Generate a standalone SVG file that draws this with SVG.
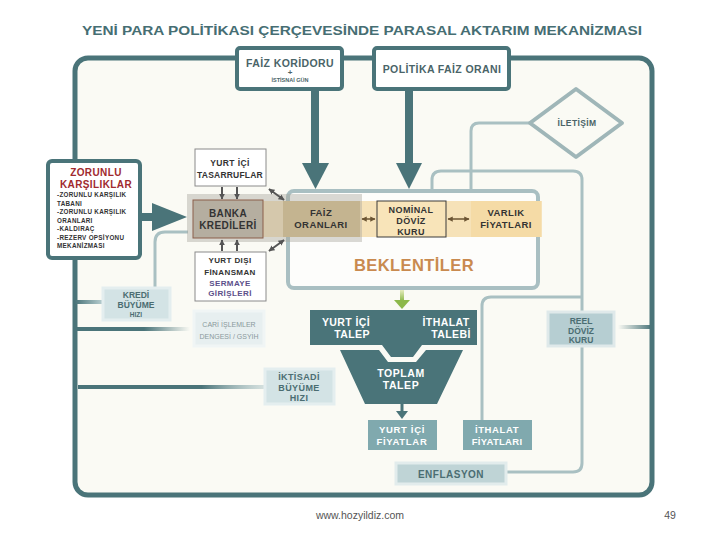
<svg xmlns="http://www.w3.org/2000/svg" width="720" height="540" viewBox="0 0 720 540">
<defs>
<style>
text{font-family:"Liberation Sans",Arial,sans-serif;font-weight:bold;text-anchor:middle}
.frame{fill:#fafaf4;stroke:#4a7479;stroke-width:5}
.tealbox{fill:#fff;stroke:#4a7479;stroke-width:4}
.lt{fill:none;stroke:#a9c0c2;stroke-width:3}
.wbox{fill:#fff;stroke:#8a8a8a;stroke-width:1}
.teal{fill:#4a7479}
.lb{fill:#d3e3e5;stroke:#e4eeef;stroke-width:3}
.fy{fill:#80a9ae}
.wt{fill:#fff}
.tt{fill:#4b6d72}
.ls{letter-spacing:0.4px}
.st{text-anchor:start}
</style>
<marker id="hb" viewBox="0 0 10 10" refX="9" refY="5" markerWidth="3.5" markerHeight="3.5" orient="auto-start-reverse"><path d="M0,0 L10,5 L0,10 z" fill="#6b5433"/></marker>
<marker id="hg" viewBox="0 0 10 10" refX="9" refY="5" markerWidth="3" markerHeight="3" orient="auto-start-reverse"><path d="M0,0 L10,5 L0,10 z" fill="#555"/></marker>
<linearGradient id="fadeA" x1="0" y1="0" x2="1" y2="0"><stop offset="0" stop-color="#4a7479"/><stop offset="1" stop-color="#b9cfd1"/></linearGradient>
<linearGradient id="fade" x1="0" y1="0" x2="1" y2="0"><stop offset="0" stop-color="#4a7479"/><stop offset="0.6" stop-color="#4a7479"/><stop offset="1" stop-color="#4a7479" stop-opacity="0"/></linearGradient>
<linearGradient id="fadeB" x1="0" y1="0" x2="1" y2="0"><stop offset="0" stop-color="#4a7479"/><stop offset="0.65" stop-color="#4a7479"/><stop offset="1" stop-color="#a9c3c6" stop-opacity="0.4"/></linearGradient>
<linearGradient id="fadeR" x1="0" y1="0" x2="1" y2="0"><stop offset="0" stop-color="#4a7479" stop-opacity="0"/><stop offset="1" stop-color="#4a7479"/></linearGradient>
<linearGradient id="grn" x1="0" y1="0" x2="0" y2="1"><stop offset="0" stop-color="#eef0c8"/><stop offset="1" stop-color="#8cb84a"/></linearGradient>
</defs>
<rect width="720" height="540" fill="#fff"/>

<text x="362" y="35" font-size="12.5" fill="#466e73" textLength="560" lengthAdjust="spacingAndGlyphs">YENİ PARA POLİTİKASI ÇERÇEVESİNDE PARASAL AKTARIM MEKANİZMASI</text>

<rect class="frame" x="75" y="58" width="577" height="437" rx="13"/>

<g id="connectors">
  <path class="lt" d="M532,123 H479 Q471,123 471,131 V191"/>
  <path class="lt" d="M432,191 V180 Q432,171 441,171 H573 Q582,171 582,180 V463 Q582,472 573,472 H507"/>
  <path class="lt" d="M482,420 V306 Q482,297 491,297 H582"/>
  <path class="lt" d="M155,287 V242 Q155,232 165,232 H188"/>
  <rect x="75" y="300" width="28" height="4" fill="url(#fadeA)"/>
  <rect x="75" y="327" width="115" height="4" fill="url(#fade)"/>
  <rect x="78" y="385" width="190" height="4" fill="url(#fadeB)"/>
  <rect x="618" y="325" width="34" height="4" fill="url(#fadeR)"/>
  <rect class="teal" x="311" y="88" width="8" height="77"/>
  <polygon class="teal" points="302,163 329,163 315.5,189"/>
  <rect class="teal" x="405" y="88" width="8" height="77"/>
  <polygon class="teal" points="396,163 422,163 409,189"/>
  <rect class="teal" x="138" y="213" width="18" height="8"/>
  <polygon class="teal" points="152,203 152,231 187,217"/>
  <rect x="400" y="289" width="4" height="12" fill="url(#grn)"/>
  <polygon points="394,300 410,300 402,309" fill="#8cb84a"/>
  <line x1="402" y1="404" x2="402" y2="412" stroke="#4a7479" stroke-width="3"/>
  <polygon class="teal" points="396,411 408,411 402,419"/>
</g>

<g id="faiz-koridoru">
  <rect class="tealbox" x="237" y="48" width="105" height="41" rx="3"/>
  <text x="290" y="67" font-size="10.5" fill="#4a6468" class="ls">FAİZ KORİDORU</text>
  <text x="290" y="75" font-size="8" fill="#4a6468">+</text>
  <text x="290" y="82" font-size="5.5" fill="#4a6468">İSTİSNAİ GÜN</text>
</g>
<g id="politika">
  <rect class="tealbox" x="374" y="48" width="135" height="41" rx="3"/>
  <text x="442" y="73" font-size="10.5" fill="#4a6468" class="ls">POLİTİKA FAİZ ORANI</text>
</g>
<g id="iletisim">
  <polygon points="530,123 576,89 622,123 576,157" fill="#fafaf4" stroke="#9fb6b8" stroke-width="4" stroke-linejoin="round"/>
  <text x="577" y="126" font-size="8.5" fill="#4a6468" class="ls">İLETİŞİM</text>
</g>

<g id="zorunlu">
  <rect class="tealbox" x="48" y="161" width="92" height="97" rx="4"/>
  <text x="96" y="176" font-size="10" fill="#a02a2e" class="ls">ZORUNLU</text>
  <text x="96" y="188" font-size="10" fill="#a02a2e" class="ls">KARŞILIKLAR</text>
  <g font-size="6.3" fill="#333" style="letter-spacing:0.3px">
  <text x="57" y="197" class="st">-ZORUNLU KARŞILIK</text>
  <text x="57" y="205.5" class="st">TABANI</text>
  <text x="57" y="214" class="st">-ZORUNLU KARŞILIK</text>
  <text x="57" y="222.5" class="st">ORANLARI</text>
  <text x="57" y="231" class="st">-KALDIRAÇ</text>
  <text x="57" y="239.5" class="st">-REZERV OPSİYONU</text>
  <text x="57" y="248" class="st">MEKANİZMASI</text>
  </g>
</g>

<g id="beklentiler">
  <rect x="288" y="191" width="250" height="97" rx="6" fill="#fdfdfb" stroke="#a9bfc2" stroke-width="4"/>
  <text x="414" y="271" font-size="16.5" fill="#c98a4f" class="ls">BEKLENTİLER</text>
</g>

<rect x="262" y="201" width="280" height="36" fill="#f6e2b8"/>
<g id="faiz-oranlari">
  <rect x="283" y="201" width="77" height="36" fill="#d9c088"/>
</g>
<rect x="187" y="194" width="175" height="48" fill="#a8a59c" opacity="0.42"/>
<g id="banka">
  <rect x="193" y="200" width="70" height="38" fill="#b5aea0" stroke="#8b5e4a" stroke-width="1"/>
  <text x="228" y="217" font-size="10" fill="#333" class="ls">BANKA</text>
  <text x="228" y="229" font-size="10" fill="#333" class="ls">KREDİLERİ</text>
</g>
<g id="faiz-oranlari-text">
  <text x="321" y="216" font-size="9.5" fill="#333" class="ls">FAİZ</text>
  <text x="321" y="227.5" font-size="9.5" fill="#333" class="ls">ORANLARI</text>
</g>
<g id="nominal">
  <rect x="377" y="201" width="69" height="36" fill="#f8e4b9" stroke="#3a3a3a" stroke-width="1"/>
  <text x="411" y="213" font-size="9" fill="#333" class="ls">NOMİNAL</text>
  <text x="411" y="224" font-size="9" fill="#333" class="ls">DÖVİZ</text>
  <text x="411" y="234.5" font-size="9" fill="#333" class="ls">KURU</text>
</g>
<g id="varlik">
  <rect x="471" y="201" width="70" height="36" fill="#f5dba6"/>
  <text x="506" y="216" font-size="9.5" fill="#333" class="ls">VARLIK</text>
  <text x="506" y="227.5" font-size="9.5" fill="#333" class="ls">FİYATLARI</text>
</g>
<g id="row-arrows" stroke-width="1.5">
  <line x1="362" y1="219" x2="375" y2="219" stroke="#6b5433" marker-start="url(#hb)" marker-end="url(#hb)"/>
  <line x1="448" y1="219" x2="469" y2="219" stroke="#6b5433" marker-start="url(#hb)" marker-end="url(#hb)"/>
  <line x1="222" y1="187" x2="222" y2="199" stroke="#555" stroke-width="2" marker-end="url(#hg)"/>
  <line x1="237" y1="187" x2="237" y2="199" stroke="#555" stroke-width="2" marker-end="url(#hg)"/>
  <line x1="222" y1="251" x2="222" y2="240" stroke="#555" stroke-width="2" marker-end="url(#hg)"/>
  <line x1="237" y1="251" x2="237" y2="240" stroke="#555" stroke-width="2" marker-end="url(#hg)"/>
  <line x1="269" y1="189" x2="284" y2="200" stroke="#555" stroke-width="2" marker-start="url(#hg)" marker-end="url(#hg)"/>
  <line x1="269" y1="251" x2="284" y2="240" stroke="#555" stroke-width="2" marker-start="url(#hg)" marker-end="url(#hg)"/>
</g>

<g id="tasarruflar">
  <rect class="wbox" x="195" y="149" width="71" height="37"/>
  <text x="230" y="166" font-size="8.5" fill="#333" class="ls">YURT İÇİ</text>
  <text x="230" y="178" font-size="8.5" fill="#333" style="letter-spacing:0.2px">TASARRUFLAR</text>
</g>
<g id="yurtdisi">
  <rect class="wbox" x="195" y="252" width="71" height="49"/>
  <text x="230" y="263" font-size="8" fill="#333" class="ls">YURT DIŞI</text>
  <text x="230" y="275" font-size="8" fill="#333" class="ls">FİNANSMAN</text>
  <text x="230" y="285.5" font-size="8" fill="#5b4f8a" class="ls">SERMAYE</text>
  <text x="230" y="296" font-size="8" fill="#5b4f8a" class="ls">GİRİŞLERİ</text>
</g>
<g id="kredi">
  <rect class="lb" x="103" y="288" width="67" height="32"/>
  <text x="136" y="298" font-size="8.5" class="tt">KREDİ</text>
  <text x="136" y="307.5" font-size="8.5" class="tt">BÜYÜME</text>
  <text x="136" y="316.5" font-size="6.5" class="tt">HIZI</text>
</g>
<g id="cari">
  <rect x="194" y="311" width="70" height="35" fill="#e7eff0" stroke="#f0f5f5" stroke-width="3"/>
  <text x="229" y="327" font-size="7" fill="#8a999c" style="font-weight:normal">CARİ İŞLEMLER</text>
  <text x="229" y="339" font-size="7" fill="#8a999c" style="font-weight:normal">DENGESİ / GSYİH</text>
</g>
<g id="iktisadi">
  <rect class="lb" x="265" y="369" width="69" height="35" fill="#c9dcdf"/>
  <text x="299" y="380" font-size="9" class="tt ls">İKTİSADİ</text>
  <text x="299" y="391" font-size="9" class="tt ls">BÜYÜME</text>
  <text x="299" y="401" font-size="9" class="tt ls">HIZI</text>
</g>
<g id="talep">
  <polygon class="teal" points="310,310 477,310 477,345 422,345 413,357 391,357 382,345 310,345"/>
  <text x="346" y="326" font-size="10.5" class="wt ls">YURT İÇİ</text>
  <text x="352" y="338" font-size="10.5" class="wt ls">TALEP</text>
  <text x="446" y="326" font-size="10.5" class="wt ls">İTHALAT</text>
  <text x="451" y="338" font-size="10.5" class="wt ls">TALEBİ</text>
</g>
<g id="toplam">
  <polygon class="teal" points="340,350 379,350 388,362 416,362 426,350 463,350 437,404 365,404"/>
  <text x="401" y="377" font-size="10.5" class="wt" style="letter-spacing:0.6px">TOPLAM</text>
  <text x="401" y="389" font-size="10.5" class="wt" style="letter-spacing:0.6px">TALEP</text>
</g>
<g id="reel">
  <rect x="548" y="312" width="66" height="34" fill="#b6ced2" stroke="#dfe9ea" stroke-width="3"/>
  <text x="581" y="324" font-size="8.5" class="tt">REEL</text>
  <text x="581" y="333.5" font-size="8.5" class="tt">DÖVİZ</text>
  <text x="581" y="343" font-size="8.5" class="tt">KURU</text>
</g>
<g id="yurtici-fiyatlar">
  <rect class="fy" x="368" y="420" width="69" height="30"/>
  <text x="402" y="433" font-size="9.5" class="wt" style="letter-spacing:0.7px">YURT İÇİ</text>
  <text x="402" y="445" font-size="9.5" class="wt" style="letter-spacing:0.7px">FİYATLAR</text>
</g>
<g id="ithalat-fiyatlari">
  <rect class="fy" x="463" y="420" width="69" height="30"/>
  <text x="497" y="433" font-size="9.5" class="wt" style="letter-spacing:0.6px">İTHALAT</text>
  <text x="497" y="445" font-size="9.5" class="wt" style="letter-spacing:0.3px">FİYATLARI</text>
</g>
<g id="enflasyon">
  <rect x="396" y="463" width="110" height="21" fill="#bfd4d6" stroke="#e2ecec" stroke-width="3"/>
  <text x="451" y="477.5" font-size="10" class="tt" style="letter-spacing:0.5px">ENFLASYON</text>
</g>

<text x="360" y="519" font-size="10.5" fill="#555" style="font-weight:normal">www.hozyildiz.com</text>
<text x="670" y="519" font-size="10.5" fill="#555" style="font-weight:normal">49</text>
</svg>
